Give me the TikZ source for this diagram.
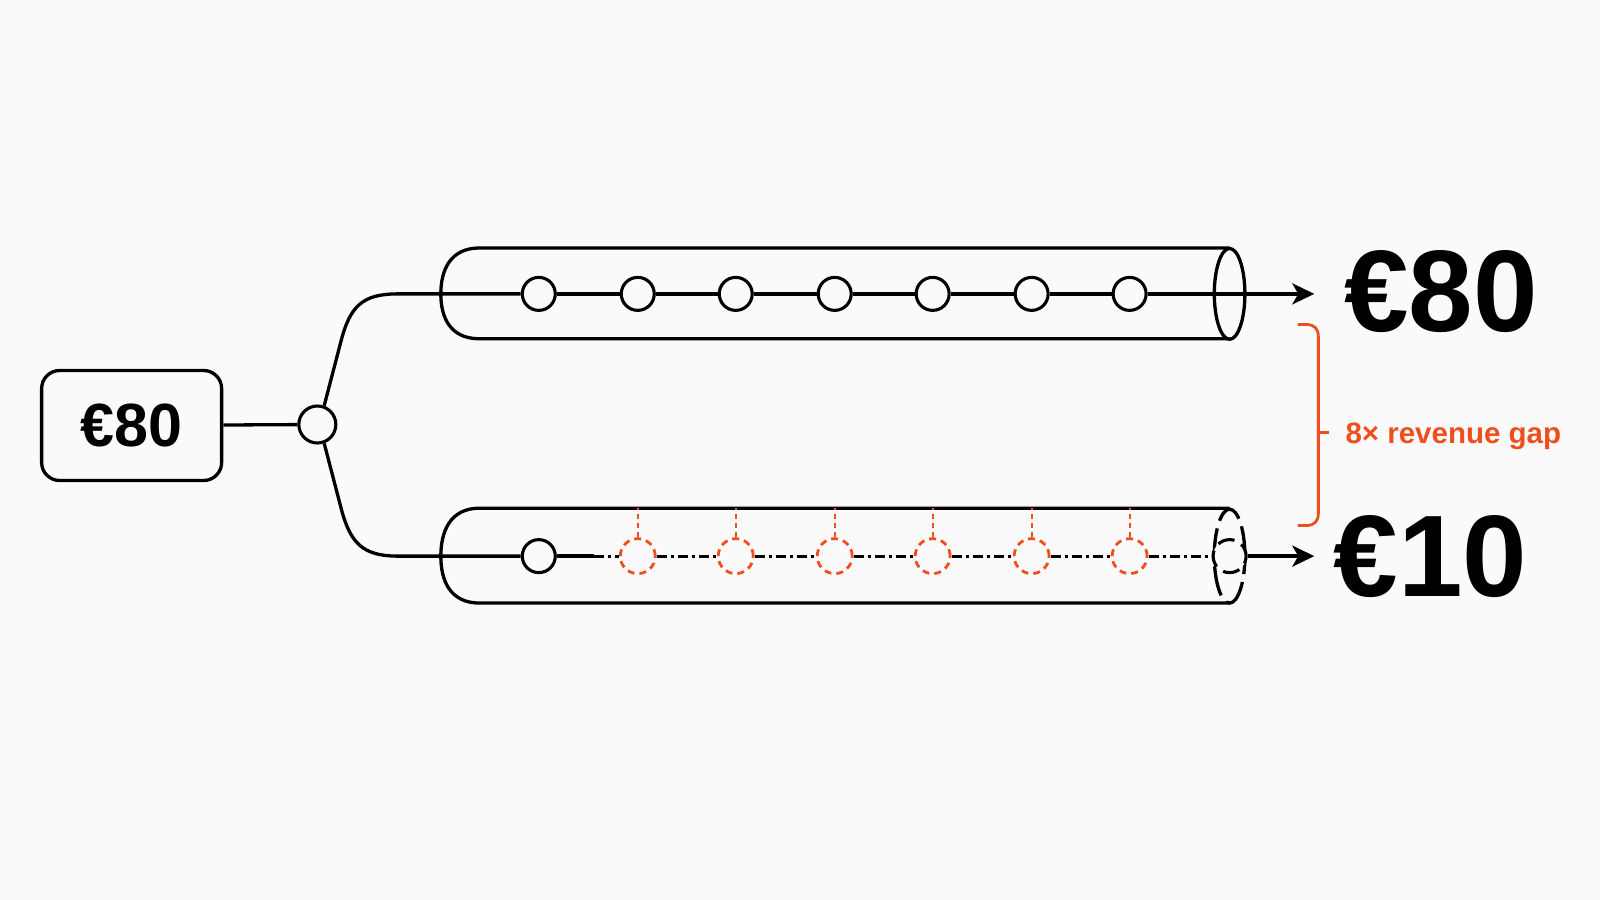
\documentclass[tikz,border=0pt]{standalone}
\usepackage{fontspec}
\setmainfont{Liberation Sans}
\usetikzlibrary{arrows.meta}
\definecolor{gaporange}{RGB}{240,78,30}
\definecolor{bgpaper}{RGB}{250,250,250}
\begin{document}
\begin{tikzpicture}[x=1.0204pt,y=-1.0204pt,line width=3.3pt,line cap=butt,
  stopnode/.style={circle,draw,fill=bgpaper,minimum size=33pt,inner sep=0pt,line width=3.1pt},
  lostnode/.style={circle,draw=gaporange,fill=bgpaper,dash pattern=on 7pt off 5pt,minimum size=35pt,inner sep=0pt,line width=2.8pt},
  arr/.style={-{Stealth[length=22pt,width=21pt,inset=6pt]}},
  lostline/.style={line width=2.8pt,dash pattern=on 10pt off 4pt on 3pt off 4pt},
  gapline/.style={draw=gaporange,line width=2.8pt},
  drop/.style={draw=gaporange,line width=2.2pt,dash pattern=on 5pt off 4pt},
  bigtext/.style={inner sep=0pt,font=\fontsize{116}{116}\selectfont\bfseries}]
\fill[bgpaper] (0,0) rectangle (1568,882);
\useasboundingbox (0,0) rectangle (1568,882);

% source box and junction
\node[draw,rounded corners=18pt,minimum width=180pt,minimum height=110pt,inner sep=0pt,
      font=\fontsize{61}{61}\selectfont\bfseries] (src) at (129,417) {€80};
\node[stopnode,minimum size=37pt] (j) at (311,416) {};
\draw (src) -- (j);

% ---------- top pipe ----------
\draw (1205,243) -- (470,243) .. controls (441,243) and (432,265) .. (432,288)
      .. controls (432,311) and (441,332) .. (470,332) -- (1205,332);
\draw (1205,288) ellipse [x radius=15,y radius=44.5];
\foreach \i/\x in {1/528,2/625,3/721,4/818,5/914,6/1011,7/1107}
  \node[stopnode] (c\i) at (\x,288) {};
\coordinate (tend) at (1288,288);
\draw (j.70) -- (334,335) .. controls (343,300) and (355,288) .. (390,288) -- (c1);
\foreach \i [evaluate=\i as \n using int(\i+1)] in {1,...,6}
  \draw (c\i) -- (c\n);
\draw[arr] (c7) -- (tend);

% ---------- bottom pipe ----------
\draw (1205,498) -- (470,498) .. controls (441,498) and (432,521) .. (432,545)
      .. controls (432,569) and (441,591) .. (470,591) -- (1205,591);
\draw[dash pattern=on 30pt off 8pt,dash phase=12pt] (1205,545) ellipse [x radius=15,y radius=46];
\node[stopnode] (b1) at (528,545) {};
\foreach \i/\x in {1/625,2/721,3/818,4/914,5/1011,6/1107}
  \node[lostnode] (l\i) at (\x,545) {};
\node[circle,draw,fill=bgpaper,minimum size=33pt,inner sep=0pt,line width=3.1pt,
      dash pattern=on 17pt off 8pt,dash phase=4pt] (bend) at (1205,545) {};
\coordinate (bcut) at (582,545);
\coordinate (bottomtip) at (1288,545);
\coordinate (pipetop) at (0,498);
\draw (j.-70) -- (334,497) .. controls (343,532) and (355,545) .. (390,545) -- (b1);
\draw (b1) -- (bcut);
\draw[lostline] (bcut) -- (l1);
\foreach \i [evaluate=\i as \n using int(\i+1)] in {1,...,5}
  \draw[lostline] (l\i) -- (l\n);
\draw[lostline] (l6) -- (bend);
\draw[arr] (bend) -- (bottomtip);
\foreach \i in {1,...,6}
  \draw[drop] (l\i.north) -- (l\i.north |- pipetop);

% ---------- outputs ----------
\node[bigtext,anchor=base] (out80) at (1412,325) {€80};
\node[bigtext,anchor=base] (out10) at (1402,585) {€10};

% ---------- gap brace ----------
\draw[gapline] (1272,318) -- (1280,318) .. controls (1288,318) and (1292,322) .. (1292,330)
      -- (1292,503) .. controls (1292,511) and (1288,515) .. (1280,515) -- (1272,515);
\coordinate (tick) at (1292,424);
\draw[gapline] (tick) -- ++(10,0);
\node[anchor=base west,inner sep=0pt,text=gaporange,
      font=\fontsize{29.5}{30}\selectfont\bfseries] (gap) at (1317,434.5) {8× revenue gap};
\end{tikzpicture}
\end{document}
